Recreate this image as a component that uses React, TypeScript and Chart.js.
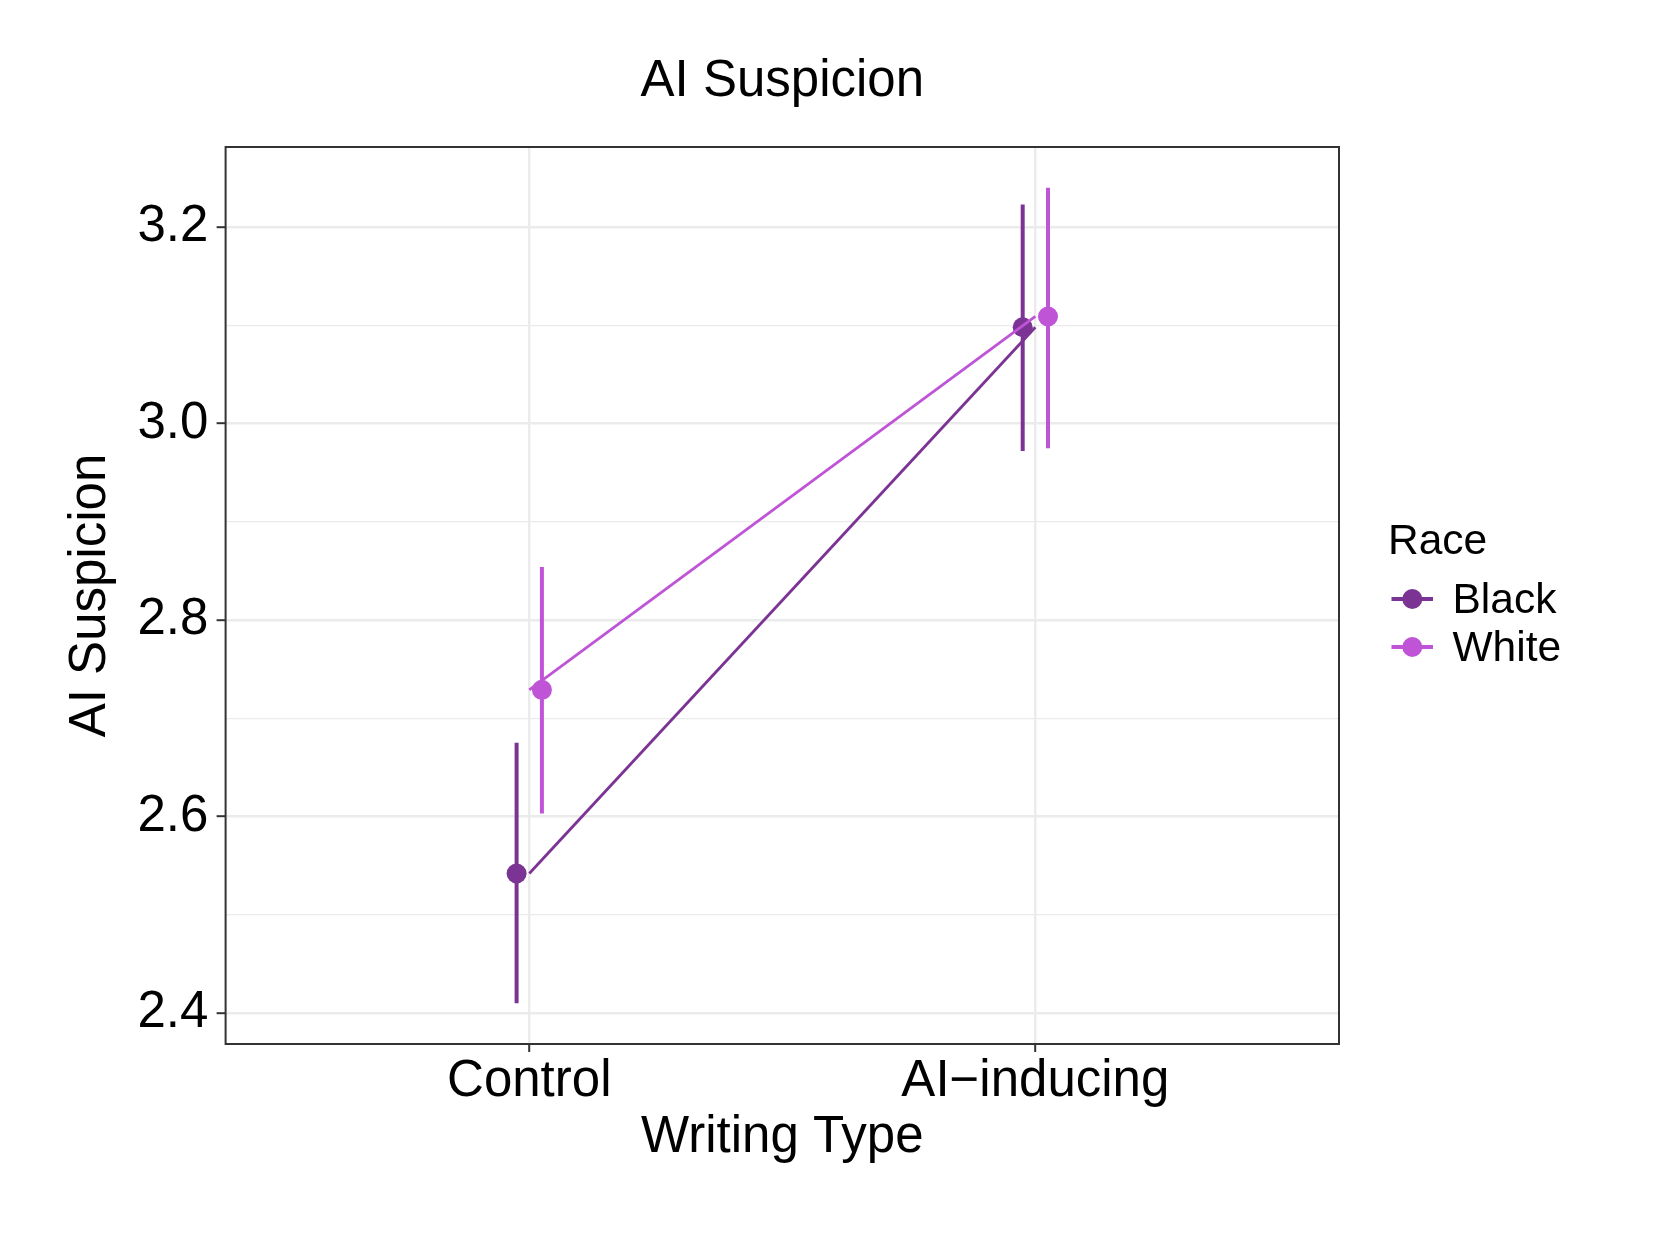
import React, { useEffect, useRef } from "react";
import { Chart, registerables } from "chart.js";

Chart.register(...registerables);

// ---- Data ----
const categories = ["Control", "AI\u2212inducing"];
const categoryPos = [1, 2];
const raceNames = ["Black", "White"];
const dodge = [-0.025, 0.025];
const blackMean = [2.542, 3.098];
const blackLow = [2.41, 2.972];
const blackHigh = [2.675, 3.223];
const whiteMean = [2.729, 3.109];
const whiteLow = [2.603, 2.975];
const whiteHigh = [2.854, 3.24];
const yTickValues = [2.4, 2.5, 2.6, 2.7, 2.8, 2.9, 3.0, 3.1, 3.2];
const yTickLabels = ["2.4", "", "2.6", "", "2.8", "", "3.0", "", "3.2"];
const raceColors = ["#7B3494", "#BF55D6"];

const chartTitle = "AI Suspicion";
const xTitle = "Writing Type";
const yTitle = "AI Suspicion";
const legendTitle = "Race";

const FONT = "'Liberation Sans', Arial, Helvetica, sans-serif";
const W = 1661;
const H = 1246;

const means = [blackMean, whiteMean];
const lows = [blackLow, whiteLow];
const highs = [blackHigh, whiteHigh];

const allLow = Math.min(...blackLow, ...whiteLow);
const allHigh = Math.max(...blackHigh, ...whiteHigh);
const yPad = (allHigh - allLow) * 0.05;

function buildDatasets() {
  const ds: any[] = [];
  // connecting lines (undodged, on top)
  for (let r = 1; r >= 0; r--) {
    ds.push({
      type: "line",
      label: raceNames[r] + " line",
      data: categoryPos.map((x, i) => ({ x, y: means[r][i] })),
      borderColor: raceColors[r],
      backgroundColor: raceColors[r],
      borderWidth: 2.8,
      pointRadius: 0,
      fill: false,
      order: 1 - r,
    });
  }
  // points
  for (let r = 1; r >= 0; r--) {
    ds.push({
      type: "line",
      label: raceNames[r] + " points",
      data: categoryPos.map((x, i) => ({ x: x + dodge[r], y: means[r][i] })),
      showLine: false,
      pointRadius: 10,
      pointBorderWidth: 0,
      pointBackgroundColor: raceColors[r],
      pointBorderColor: raceColors[r],
      order: 3 - r,
    });
  }
  // error bars
  for (let r = 1; r >= 0; r--) {
    const data: any[] = [];
    categoryPos.forEach((x, i) => {
      data.push({ x: x + dodge[r], y: lows[r][i] });
      data.push({ x: x + dodge[r], y: highs[r][i] });
      data.push({ x: x + dodge[r], y: null });
    });
    ds.push({
      type: "line",
      label: raceNames[r] + " CI",
      data,
      borderColor: raceColors[r],
      borderWidth: 4,
      borderCapStyle: "butt",
      pointRadius: 0,
      spanGaps: false,
      fill: false,
      order: 5 - r,
    });
  }
  return ds;
}

const decorPlugin = {
  id: "decor",
  afterDatasetsDraw(chart: any) {
    const { ctx, chartArea: a } = chart;
    ctx.save();
    ctx.strokeStyle = "#333333";
    ctx.lineWidth = 2;
    ctx.strokeRect(a.left, a.top, a.right - a.left, a.bottom - a.top);
    ctx.restore();
  },
  afterDraw(chart: any) {
    const { ctx, chartArea: a } = chart;
    ctx.save();
    // Title
    ctx.fillStyle = "#000000";
    ctx.font = `51px ${FONT}`;
    ctx.textAlign = "center";
    ctx.textBaseline = "alphabetic";
    ctx.fillText(chartTitle, (a.left + a.right) / 2, 96);

    // Legend
    ctx.font = `42.5px ${FONT}`;
    ctx.textAlign = "left";
    ctx.fillText(legendTitle, 1388, 553.5);
    const keyY = [599, 647];
    raceNames.forEach((name, i) => {
      const y = keyY[i];
      ctx.strokeStyle = raceColors[i];
      ctx.lineWidth = 4;
      ctx.lineCap = "butt";
      ctx.beginPath();
      ctx.moveTo(1391.5, y);
      ctx.lineTo(1433, y);
      ctx.stroke();
      ctx.fillStyle = raceColors[i];
      ctx.beginPath();
      ctx.arc(1412.3, y, 10, 0, Math.PI * 2);
      ctx.fill();
      ctx.fillStyle = "#000000";
      ctx.fillText(name, 1452.5, y + 13.5);
    });
    ctx.restore();
  },
};

export default function App() {
  const canvasRef = useRef<HTMLCanvasElement | null>(null);

  useEffect(() => {
    const canvas = canvasRef.current;
    if (!canvas) return;
    Chart.defaults.font.family = FONT;
    Chart.defaults.color = "#000000";

    const chart = new Chart(canvas, {
      type: "line",
      data: { datasets: buildDatasets() },
      plugins: [decorPlugin],
      options: {
        responsive: false,
        animation: false,
        devicePixelRatio: 1,
        layout: { padding: { top: 147, right: W - 1339, left: 0, bottom: 0 } },
        plugins: {
          legend: { display: false },
          title: { display: false },
          tooltip: { enabled: false },
        },
        scales: {
          x: {
            type: "linear",
            min: 0.4,
            max: 2.6,
            border: { display: false },
            afterBuildTicks: (scale: any) => {
              scale.ticks = categoryPos.map((v) => ({ value: v }));
            },
            afterFit: (scale: any) => {
              scale.height = H - 1044;
            },
            grid: {
              color: "#EBEBEB",
              lineWidth: 2.4,
              drawTicks: true,
              tickLength: 8,
              tickColor: "#333333",
              tickWidth: 2,
            },
            ticks: {
              autoSkip: false,
              maxRotation: 0,
              minRotation: 0,
              padding: 4.5,
              font: { size: 51, lineHeight: 1 },
              color: "#000000",
              callback: (_v: any, i: number) => categories[i],
            },
            title: {
              display: true,
              text: xTitle,
              color: "#000000",
              font: { size: 51, lineHeight: 1 },
              padding: { top: 0, bottom: 82.5 },
            },
          },
          y: {
            type: "linear",
            min: allLow - yPad,
            max: allHigh + yPad,
            border: { display: false },
            afterBuildTicks: (scale: any) => {
              scale.ticks = yTickValues.map((v) => ({ value: v }));
            },
            afterFit: (scale: any) => {
              scale.width = 225.6;
            },
            grid: {
              color: "#EBEBEB",
              lineWidth: (c: any) => (c.index % 2 === 0 ? 2.4 : 1.2),
              drawTicks: true,
              tickLength: 9,
              tickColor: (c: any) => (c.index % 2 === 0 ? "#333333" : "rgba(0,0,0,0)"),
              tickWidth: 2,
            },
            ticks: {
              autoSkip: false,
              padding: 8.3,
              font: { size: 51, lineHeight: 1 },
              color: "#000000",
              callback: (_v: any, i: number) => yTickLabels[i],
            },
            title: {
              display: true,
              text: yTitle,
              color: "#000000",
              font: { size: 51, lineHeight: 1 },
              padding: { top: 65.1, bottom: 0 },
            },
          },
        },
      } as any,
    });
    return () => chart.destroy();
  }, []);

  return (
    <div style={{ position: "absolute", left: 0, top: 0, width: W, height: H, background: "#ffffff" }}>
      <canvas ref={canvasRef} width={W} height={H} style={{ width: W, height: H, display: "block" }} />
    </div>
  );
}
